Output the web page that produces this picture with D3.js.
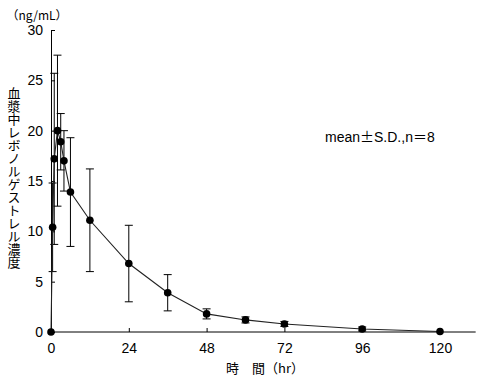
<!DOCTYPE html>
<html>
<head>
<meta charset="utf-8">
<script src="https://cdn.jsdelivr.net/npm/d3@7"></script>
<style>
  body { margin: 0; background: #fff; }
  text { font-family: "Liberation Sans", Arial, "Noto Sans CJK JP", sans-serif; fill: #000; }
  .jp { font-family: "Noto Sans CJK JP", sans-serif; }
</style>
</head>
<body>
<div id="chart"></div>
<script>
// data (hr, ng/mL)
var times = [0, 0.5, 1, 2, 3, 4, 6, 12, 24, 36, 48, 60, 72, 96, 120];
var means = [0, 10.4, 17.2, 20.0, 18.9, 17.0, 13.9, 11.1, 6.8, 3.9, 1.8, 1.2, 0.8, 0.3, 0.05];
var sds   = [0, 4.4, 8.5, 7.5, 2.8, 3.0, 5.4, 5.1, 3.8, 1.8, 0.5, 0.3, 0.25, 0.2, 0];
var xTicks = [0, 24, 48, 72, 96, 120];
var yTicks = [0, 5, 10, 15, 20, 25, 30];

var width = 483, height = 381;

var svg = d3.select("#chart").append("svg")
  .attr("width", width)
  .attr("height", height);

// scales
var x = d3.scaleLinear().domain([0, 120]).range([51, 440]);
var y = d3.scaleLinear().domain([0, 30]).range([332, 30]);

var data = times.map(function(t, i) {
  return { t: t, m: means[i], sd: sds[i] };
});

// x axis
var xAxis = svg.append("g")
  .attr("transform", "translate(0," + y(0) + ")")
  .call(d3.axisBottom(x)
    .tickValues(xTicks)
    .tickSize(-4)
    .tickSizeOuter(0)
    .tickPadding(11));
xAxis.select(".domain").attr("d", "M" + x(0) + ",0H" + x(131));
xAxis.selectAll("text").style("font-size", "14px");
xAxis.selectAll("line,path").attr("stroke", "#000");

// y axis
var yAxis = svg.append("g")
  .attr("transform", "translate(" + x(0) + ",0)")
  .call(d3.axisLeft(y)
    .tickValues(yTicks)
    .tickSize(-4)
    .tickSizeOuter(0)
    .tickPadding(8));
yAxis.selectAll("text").style("font-size", "14px");
yAxis.selectAll("line,path").attr("stroke", "#000");

// error bars
var capW = 4;
var eb = svg.append("g").attr("class", "errorbars");
data.filter(function(d) { return d.sd > 0; }).forEach(function(d) {
  var lo = Math.max(d.m - d.sd, 0), hi = d.m + d.sd;
  eb.append("line")
    .attr("x1", x(d.t)).attr("x2", x(d.t))
    .attr("y1", y(lo)).attr("y2", y(hi))
    .attr("stroke", "#000").attr("stroke-width", 1);
  [lo, hi].forEach(function(v) {
    eb.append("line")
      .attr("x1", x(d.t) - capW).attr("x2", x(d.t) + capW)
      .attr("y1", y(v)).attr("y2", y(v))
      .attr("stroke", "#000").attr("stroke-width", 1);
  });
});

// mean line
var line = d3.line()
  .x(function(d) { return x(d.t); })
  .y(function(d) { return y(d.m); });

svg.append("path")
  .datum(data)
  .attr("d", line)
  .attr("fill", "none")
  .attr("stroke", "#222")
  .attr("stroke-width", 1.1);

// points
svg.selectAll("circle.pt")
  .data(data)
  .enter().append("circle")
  .attr("class", "pt")
  .attr("cx", function(d) { return x(d.t); })
  .attr("cy", function(d) { return y(d.m); })
  .attr("r", 3.8)
  .attr("fill", "#000");

// labels
svg.append("text")
  .attr("class", "jp")
  .attr("x", 37).attr("y", 20)
  .attr("text-anchor", "middle")
  .style("font-size", "12px")
  .text("（ng/mL）");

svg.append("text")
  .attr("class", "jp")
  .attr("x", 265).attr("y", 373)
  .attr("text-anchor", "middle")
  .style("font-size", "13px")
  .text("時　間（hr）");

svg.append("text")
  .attr("class", "jp")
  .attr("x", 14).attr("y", 87)
  .style("font-size", "13px")
  .style("writing-mode", "vertical-rl")
  .style("text-orientation", "upright")
  .text("血漿中レボノルゲストレル濃度");

var note = svg.append("text")
  .attr("x", 325).attr("y", 142)
  .style("font-size", "14px");
note.append("tspan").text("mean");
note.append("tspan").attr("class", "jp").text("±");
note.append("tspan").text("S.D.,n");
note.append("tspan").attr("class", "jp").text("＝");
note.append("tspan").text("8");
</script>
</body>
</html>
